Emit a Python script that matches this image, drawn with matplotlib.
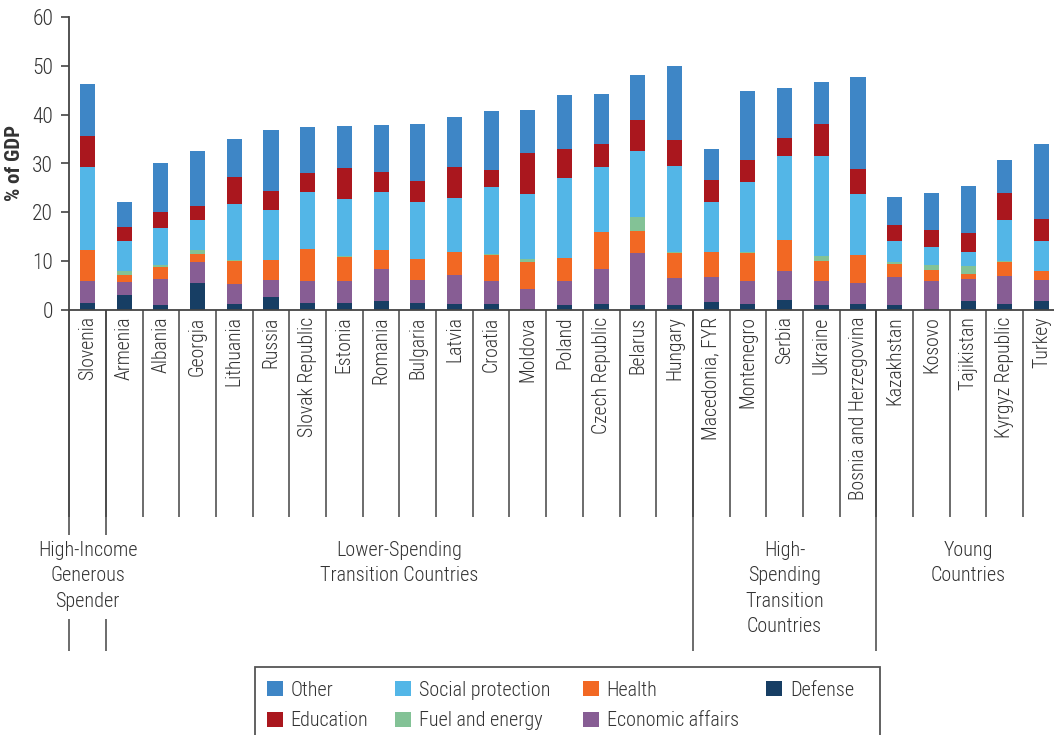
import matplotlib
matplotlib.use("Agg")
import matplotlib.pyplot as plt
from matplotlib.patches import Rectangle
import numpy as np

plt.rcParams['font.family'] = ['Roboto Condensed', 'DejaVu Sans']
plt.rcParams['font.weight'] = 300

# ---------------- data ----------------
countries = ["Slovenia", "Armenia", "Albania", "Georgia", "Lithuania", "Russia",
             "Slovak Republic", "Estonia", "Romania", "Bulgaria", "Latvia", "Croatia",
             "Moldova", "Poland", "Czech Republic", "Belarus", "Hungary",
             "Macedonia, FYR", "Montenegro", "Serbia", "Ukraine", "Bosnia and Herzegovina",
             "Kazakhstan", "Kosovo", "Tajikistan", "Kyrgyz Republic", "Turkey"]

defense = [1.4, 3.2, 1.0, 5.5, 1.2, 2.8, 1.4, 1.4, 1.8, 1.4, 1.2, 1.2, 0.1, 1.0, 1.2, 1.0, 1.0,
           1.6, 1.2, 2.2, 1.0, 1.2, 1.0, 0.3, 2.0, 1.2, 1.8]
economic_affairs = [4.5, 2.5, 5.3, 4.3, 4.1, 3.3, 4.5, 4.5, 6.6, 4.7, 6.1, 4.7, 4.3, 4.9, 7.2, 10.7, 5.7,
                    5.3, 4.7, 5.9, 4.9, 4.3, 5.9, 5.7, 4.3, 5.9, 4.3]
health = [6.4, 1.6, 2.5, 1.8, 4.7, 4.1, 6.6, 4.9, 3.9, 4.3, 4.7, 5.5, 5.5, 4.7, 7.6, 4.5, 5.1,
          5.1, 5.9, 6.2, 4.1, 5.9, 2.5, 2.3, 1.2, 2.7, 1.9]
fuel_energy = [0.0, 0.8, 0.4, 0.8, 0.2, 0.0, 0.0, 0.2, 0.0, 0.0, 0.0, 0.2, 0.6, 0.0, 0.0, 2.9, 0.2,
               0.0, 0.2, 0.0, 1.0, 0.0, 0.4, 1.0, 1.5, 0.2, 0.0]
social_protection = [17.0, 6.0, 7.6, 6.0, 11.5, 10.3, 11.7, 11.7, 11.9, 11.7, 10.9, 13.5, 13.3, 16.4, 13.3, 13.5, 17.5,
                     10.1, 14.2, 17.2, 20.5, 12.3, 4.3, 3.7, 3.0, 8.4, 6.1]
education = [6.4, 2.9, 3.3, 2.9, 5.5, 3.9, 3.9, 6.4, 4.1, 4.3, 6.4, 3.5, 8.4, 6.0, 4.7, 6.2, 5.3,
             4.5, 4.5, 3.7, 6.6, 5.1, 3.4, 3.5, 3.7, 5.5, 4.5]
other = [10.5, 5.1, 10.0, 11.3, 7.8, 12.5, 9.4, 8.6, 9.6, 11.7, 10.3, 12.1, 8.8, 10.9, 10.3, 9.2, 15.2,
         6.3, 14.1, 10.3, 8.6, 18.9, 5.6, 7.4, 9.7, 6.8, 15.4]

groups = ["High-Income\nGenerous\nSpender", "Lower-Spending\nTransition Countries",
          "High-\nSpending\nTransition\nCountries", "Young\nCountries"]
group_sizes = [1, 16, 5, 5]

yticks = [0, 10, 20, 30, 40, 50, 60]
ylabel = "% of GDP"

# stacking order (bottom to top)
series = [("Defense", defense, "#173e64"),
          ("Economic affairs", economic_affairs, "#875d94"),
          ("Health", health, "#f26823"),
          ("Fuel and energy", fuel_energy, "#83c296"),
          ("Social protection", social_protection, "#53b6e7"),
          ("Education", education, "#aa171e"),
          ("Other", other, "#3e86c6")]

# legend layout (rows x columns)
legend_grid = [["Other", "Social protection", "Health", "Defense"],
               ["Education", "Fuel and energy", "Economic affairs"]]

# ---------------- figure ----------------
W, H = 1054, 735
fig = plt.figure(figsize=(W / 100, H / 100), dpi=100)

def fx(px):
    return px / W

def fy(py):
    return 1 - py / H

TXT = "#333333"
LINE = "#444444"
FS = 14.5

ax_left, ax_right = 69.2, 1059.8
ax_top, ax_bot = 16.7, 310.3
ax = fig.add_axes([fx(ax_left), fy(ax_bot), fx(ax_right) - fx(ax_left), (ax_bot - ax_top) / H])

n = len(countries)
x = np.arange(n)
bottom = np.zeros(n)
for name, vals, col in series:
    v = np.array(vals)
    ax.bar(x, v, width=0.41, bottom=bottom, color=col, linewidth=0)
    bottom += v

ax.set_xlim(-0.5, n - 0.5)
ax.set_ylim(0, 60)
ax.set_yticks(yticks)
ax.set_yticklabels([str(t) for t in yticks], fontsize=FS + 1, color=TXT)
ax.tick_params(axis='y', length=6, width=1.2, color=LINE, pad=5.5, direction='out')
ax.set_xticks([])
for s in ['top', 'right']:
    ax.spines[s].set_visible(False)
for s in ['left', 'bottom']:
    ax.spines[s].set_color(LINE)
    ax.spines[s].set_linewidth(1.3)

fig.text(fx(14), fy(163), ylabel, rotation=90, ha='center', va='center',
         fontsize=FS + 0.5, fontweight='bold', color=TXT)

trans = ax.get_xaxis_transform()
hpx = ax_bot - ax_top

def ay(py):
    return -(py - ax_bot) / hpx

# category separators and labels
for i in range(n + 1):
    ax.plot([i - 0.5, i - 0.5], [0, ay(517)], transform=trans, color=LINE,
            lw=1.1, clip_on=False, solid_capstyle='butt')
for i, c in enumerate(countries):
    ax.text(i, ay(316.5), c, transform=trans, rotation=90, ha='center', va='top',
            fontsize=14.2, color=TXT, clip_on=False)

# group separators and labels
bounds = np.concatenate([[0], np.cumsum(group_sizes)]) - 0.5
single = set()
for gi, sz in enumerate(group_sizes):
    if sz == 1:
        single.add(gi)
        single.add(gi + 1)
for bi, b in enumerate(bounds):
    if bi in single:
        ax.plot([b, b], [0, ay(535)], transform=trans, color=LINE, lw=1.1,
                clip_on=False, solid_capstyle='butt')
        ax.plot([b, b], [ay(619), ay(650.7)], transform=trans, color=LINE, lw=1.1,
                clip_on=False, solid_capstyle='butt')
    else:
        ax.plot([b, b], [0, ay(650.7)], transform=trans, color=LINE, lw=1.1,
                clip_on=False, solid_capstyle='butt')
for gi, g in enumerate(groups):
    xc = (bounds[gi] + bounds[gi + 1]) / 2
    ax.text(xc, ay(540.5), g, transform=trans, ha='center', va='top', fontsize=FS,
            color=TXT, linespacing=1.44, multialignment='center', clip_on=False)

# legend
colors = {name: col for name, _, col in series}
fig.patches.append(Rectangle((fx(254.5), fy(760)), fx(880) - fx(254.5), (760 - 667) / H,
                             transform=fig.transFigure, fill=False, edgecolor="#555555",
                             lw=1.3))
col_x = [266.7, 395.0, 582.7, 766.0]
row_y = [688.0, 719.0]
for r, row in enumerate(legend_grid):
    for c, name in enumerate(row):
        px, py = col_x[c], row_y[r]
        fig.patches.append(Rectangle((fx(px), fy(py + 7.5)), 16 / W, 15 / H,
                                     transform=fig.transFigure, facecolor=colors[name],
                                     edgecolor='none'))
        fig.text(fx(px + 24), fy(py), name, ha='left', va='center_baseline',
                 fontsize=FS, color=TXT)

fig.savefig("out.png", dpi=100)
